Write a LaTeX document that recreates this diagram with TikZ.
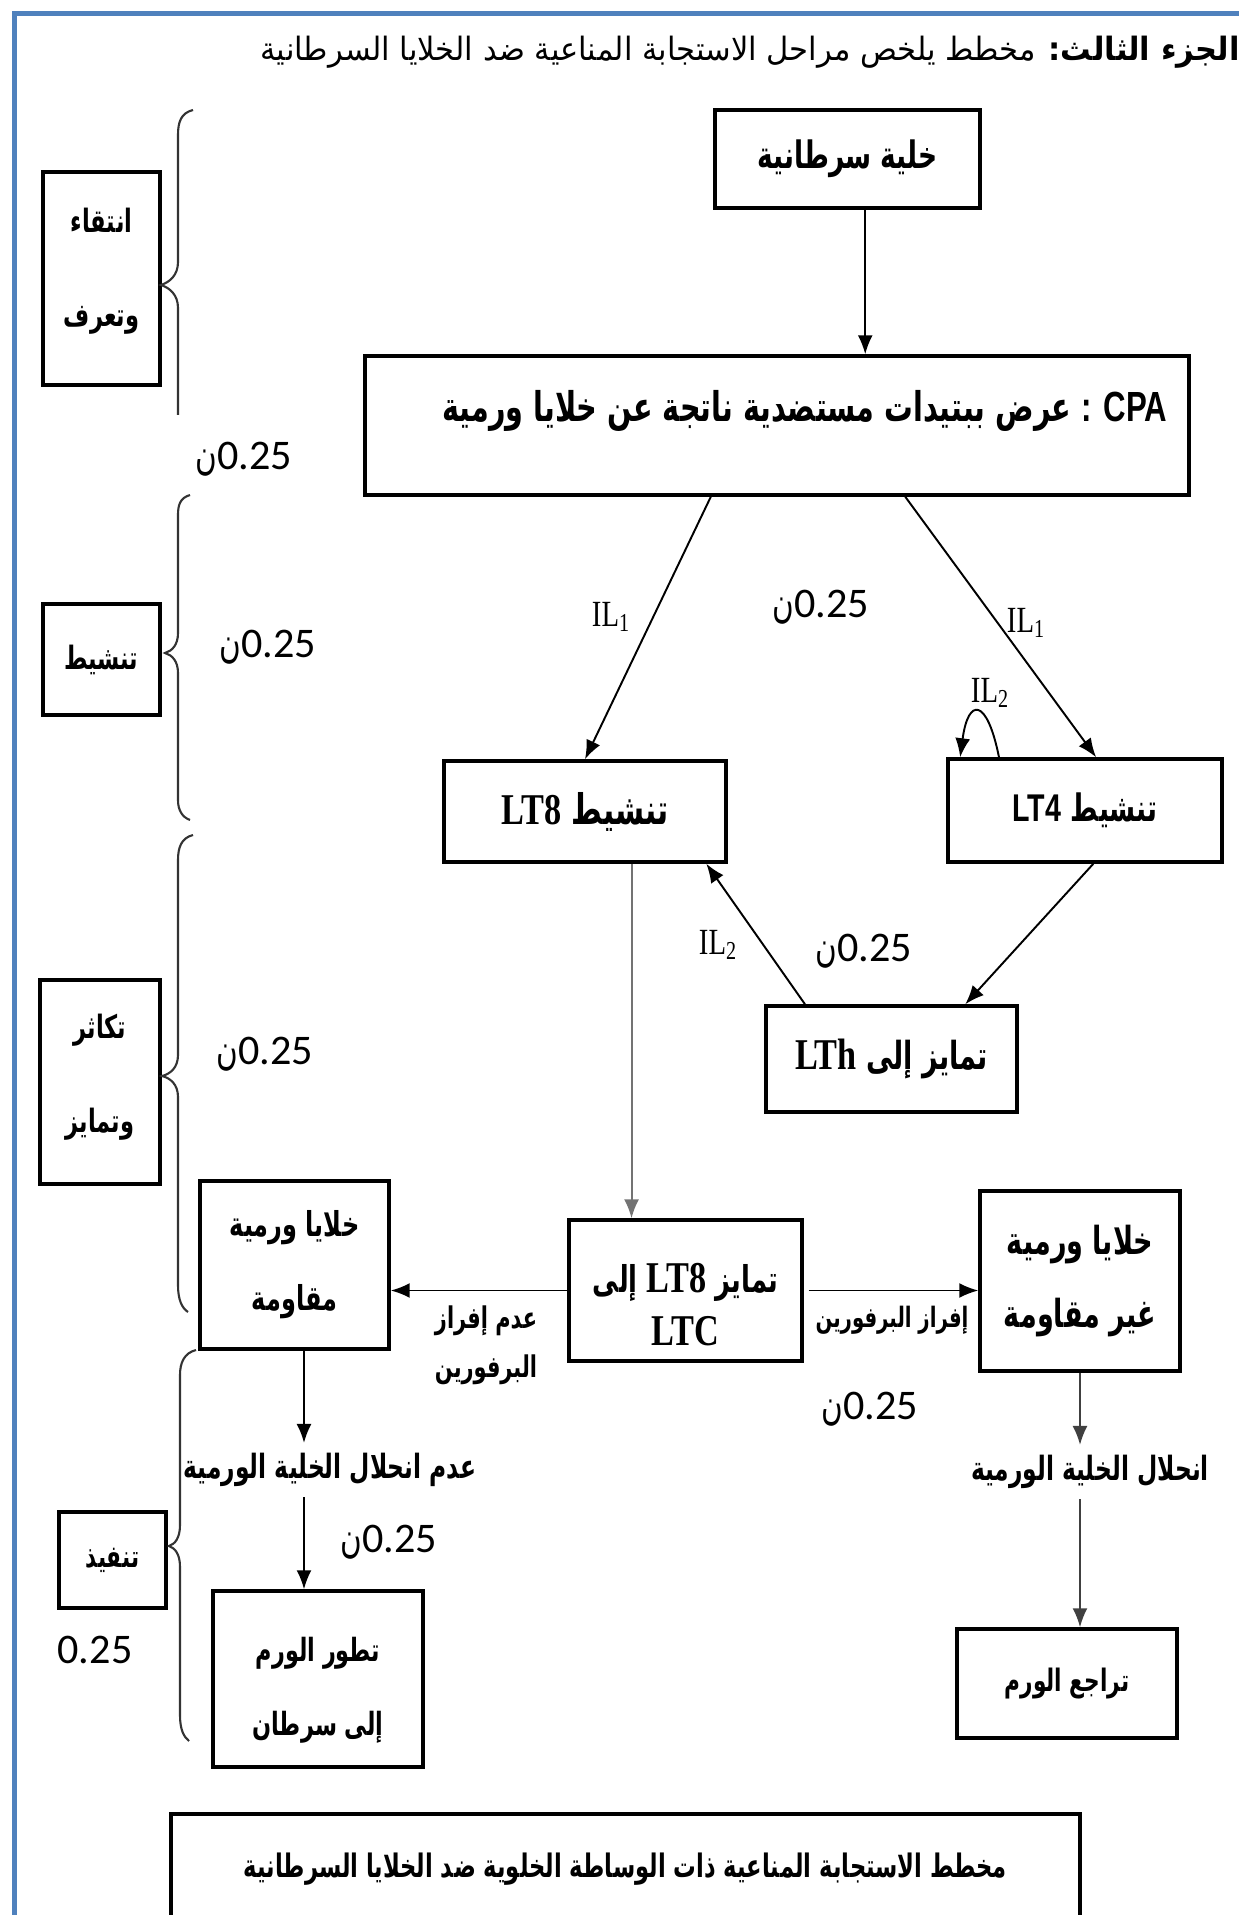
\documentclass[tikz,border=0pt]{standalone}
\usepackage{fontspec}
\usetikzlibrary{arrows.meta,calc}
\setmainfont{Liberation Serif}
\newfontfamily\arfont[Script=Arabic,FakeStretch=0.7]{DejaVu Sans}
\newfontfamily\artitle[Script=Arabic,FakeStretch=0.95]{DejaVu Sans}
\newfontfamily\latfont[FakeStretch=0.78]{Liberation Serif}
\newfontfamily\cpafont[FakeStretch=0.74]{Liberation Sans}
\newfontfamily\numfont{Carlito}
\TeXXeTstate=1
\newcommand\artx[1]{{\arfont\beginR #1\endR}}
\definecolor{framebl}{RGB}{79,129,189}
\begin{document}
\begin{tikzpicture}[x=0.02cm,y=-0.02cm,
  box/.style={draw,line width=2pt,inner sep=0pt,align=center,font=\fontsize{21.5pt}{42pt}\selectfont\bfseries},
  arr/.style={line width=1.1pt,-{Latex[length=0.38cm,width=0.3cm]}},
  lbl/.style={inner xsep=0pt,inner ysep=0.2cm,align=center,font=\fontsize{19pt}{28pt}\selectfont\bfseries},
  score/.style={inner sep=0pt,font=\numfont\fontsize{24pt}{28pt}\selectfont},
  il/.style={inner sep=0pt,font=\latfont\fontsize{21pt}{24pt}\selectfont},
  brace/.style={line width=1.2pt,black!80}]
\useasboundingbox (0,0) rectangle (1239,1915);
% frame
\draw[framebl,line width=0.1cm] (14.5,2000) -- (14.5,13.5) -- (1300,13.5);
% title
\node[inner sep=0pt,anchor=east,font=\fontsize{18.3pt}{22pt}\selectfont] (title) at (1240,52)
  {{\artitle\beginR{\bfseries الجزء الثالث\kern0pt:} مخطط يلخص مراحل الاستجابة المناعية ضد الخلايا السرطانية\endR}};
% main boxes
\node[box,minimum width=5.3cm,minimum height=1.96cm] (cell) at (847.5,159) {\artx{خلية سرطانية}};
\node[box,minimum width=16.48cm,minimum height=2.78cm,font=\fontsize{23.3pt}{28pt}\selectfont\bfseries] (cpa) at (777,425.5)
  {\hspace*{1.12cm}\artx{عرض ببتيدات مستضدية ناتجة عن خلايا ورمية}\ {\cpafont\fontsize{24pt}{28pt}\selectfont : CPA}\rule[-0.8cm]{0pt}{0pt}};
\node[box,minimum width=5.64cm,minimum height=2.02cm,font=\fontsize{24pt}{28pt}\selectfont\bfseries] (lt8act) at (585,811.5)
  {{\latfont\fontsize{25pt}{28pt}\selectfont LT8} \artx{تنشيط}};
\node[box,minimum width=5.48cm,minimum height=2.06cm] (lt4act) at (1085,810.5) {{\cpafont\fontsize{22pt}{28pt}\selectfont LT4} \artx{تنشيط}};
\node[box,minimum width=5.02cm,minimum height=2.12cm,font=\fontsize{22pt}{28pt}\selectfont\bfseries] (lth) at (891.5,1059)
  {{\latfont\fontsize{25pt}{28pt}\selectfont LTh} \artx{تمايز إلى}};
\node[box,minimum width=4.66cm,minimum height=2.82cm,font=\fontsize{21pt}{30pt}\selectfont\bfseries] (ltc) at (685.5,1290.5)
  {\rule{0pt}{1.15cm}\artx{إلى}\ {\latfont\fontsize{25pt}{28pt}\selectfont LT8}\ \artx{تمايز}\\{\latfont\fontsize{25pt}{28pt}\selectfont LTC}};
\node[box,minimum width=3.78cm,minimum height=3.36cm,font=\fontsize{19.5pt}{42pt}\selectfont\bfseries] (resist) at (294.5,1265)
  {\artx{خلايا ورمية}\\\artx{مقاومة}};
\node[box,minimum width=4cm,minimum height=3.6cm,font=\fontsize{22pt}{42pt}\selectfont\bfseries] (nonres) at (1080,1281)
  {\artx{خلايا ورمية}\\\artx{غير مقاومة}};
\node[box,minimum width=4.2cm,minimum height=3.52cm,font=\fontsize{18.2pt}{42pt}\selectfont\bfseries] (tumor) at (318,1679)
  {\rule{0pt}{0.95cm}\artx{تطور الورم}\\\artx{إلى سرطان}};
\node[box,minimum width=4.4cm,minimum height=2.18cm,font=\fontsize{17.6pt}{28pt}\selectfont\bfseries] (regress) at (1067,1683.5) {\artx{تراجع الورم}};
\node[box,minimum width=18.18cm,minimum height=2.2cm,anchor=north,font=\fontsize{18.4pt}{22pt}\selectfont\bfseries] (caption) at (625.5,1812)
  {\artx{مخطط الاستجابة المناعية ذات الوساطة الخلوية ضد الخلايا السرطانية}};
% phase boxes
\node[box,minimum width=2.34cm,minimum height=4.26cm,font=\fontsize{18.3pt}{53pt}\selectfont\bfseries] (select) at (101.5,278.5)
  {\artx{انتقاء}\\\artx{وتعرف}\rule[-0.45cm]{0pt}{0pt}};
\node[box,minimum width=2.34cm,minimum height=2.22cm,font=\fontsize{18.3pt}{20pt}\selectfont\bfseries] (activ) at (101.5,659.5) {\artx{تنشيط}};
\node[box,minimum width=2.4cm,minimum height=4.08cm,font=\fontsize{18.3pt}{53pt}\selectfont\bfseries] (prolif) at (100,1082)
  {\artx{تكاثر}\\\artx{وتمايز}\rule[-0.35cm]{0pt}{0pt}};
\node[box,minimum width=2.14cm,minimum height=1.92cm,font=\fontsize{17.5pt}{20pt}\selectfont\bfseries] (effect) at (112.5,1560) {\artx{تنفيذ}};
% braces
\draw[brace] (193,110) .. controls (181,113) and (178,122) .. (178,135) -- (178,262)
  .. controls (178,275) and (170,282) .. (161,285) .. controls (170,288) and (178,295) .. (178,308) -- (178,415);
\draw[brace] (190,495) .. controls (180,498) and (178,505) .. (178,515) -- (178,633)
  .. controls (178,645) and (172,651) .. (165,653) .. controls (172,655) and (178,661) .. (178,673) -- (178,800)
  .. controls (178,810) and (182,817) .. (190,820);
\draw[brace] (193,835) .. controls (181,838) and (178,848) .. (178,860) -- (178,1055)
  .. controls (178,1068) and (170,1074) .. (162,1076) .. controls (170,1078) and (178,1084) .. (178,1097) -- (178,1285)
  .. controls (178,1300) and (182,1308) .. (188,1312);
\draw[brace] (196,1350) .. controls (184,1353) and (180,1363) .. (180,1375) -- (180,1525)
  .. controls (180,1538) and (175,1544) .. (169,1546) .. controls (175,1548) and (180,1554) .. (180,1567) -- (180,1715)
  .. controls (180,1730) and (184,1737) .. (189,1741);
% labels on the arrows
\node[il] (il1a) at (611,617) {IL\textsubscript{1}};
\node[il] (il1b) at (1026,623) {IL\textsubscript{1}};
\node[il] (il2a) at (990,693) {IL\textsubscript{2}};
\node[il] (il2b) at (718,945) {IL\textsubscript{2}};
\node[lbl,font=\fontsize{17pt}{28pt}\selectfont\bfseries] (nosecr) at (486,1345) {\artx{عدم إفراز}\\\artx{البرفورين}};
\node[lbl,font=\fontsize{16pt}{28pt}\selectfont\bfseries] (secr) at (892,1320) {\artx{إفراز البرفورين}};
\node[lbl] (nolysis) at (330,1470) {\artx{عدم انحلال الخلية الورمية}};
\node[lbl] (lysis) at (1090,1472) {\artx{انحلال الخلية الورمية}};
% marks
\node[score] (s1) at (244,459) {{\arfont ن}0.25};
\node[score] (s2) at (268,647) {{\arfont ن}0.25};
\node[score] (s3) at (821,607) {{\arfont ن}0.25};
\node[score] (s4) at (864,951) {{\arfont ن}0.25};
\node[score] (s5) at (265,1054) {{\arfont ن}0.25};
\node[score] (s6) at (870,1409) {{\arfont ن}0.25};
\node[score] (s7) at (389,1542) {{\arfont ن}0.25};
\node[score] (s8) at (95,1650) {0.25};
% connectors
\coordinate (c0) at ($(cell.south west)!0.566!(cell.south east)$);
\draw[arr] (c0) -- (c0 |- cpa.north);
\draw[arr] ($(cpa.south west)!0.42!(cpa.south east)$) -- (lt8act.north);
\draw[arr] ($(cpa.south west)!0.655!(cpa.south east)$) -- ($(lt4act.north west)!0.54!(lt4act.north east)$);
\draw[arr] ($(lt4act.north west)!0.19!(lt4act.north east)$) .. controls +(-12,-60) and +(8,-60) .. ($(lt4act.north west)!0.05!(lt4act.north east)$);
\draw[arr] ($(lt4act.south west)!0.53!(lt4act.south east)$) -- ($(lth.north west)!0.79!(lth.north east)$);
\draw[arr] ($(lth.north west)!0.16!(lth.north east)$) -- ($(lt8act.south west)!0.925!(lt8act.south east)$);
\coordinate (c1) at ($(lt8act.south west)!0.663!(lt8act.south east)$);
\draw[arr,black!55] (c1) -- (c1 |- ltc.north);
\draw[arr] (ltc.west) -- (ltc.west -| resist.east);
\draw[arr] ([xshift=0.1cm]ltc.east) -- (ltc.east -| nonres.west);
\coordinate (c2) at (304,0);
\draw[arr] (resist.south -| c2) -- (nolysis.north -| c2);
\draw[arr] (nolysis.south -| c2) -- (tumor.north -| c2);
\draw[arr,black!75] (nonres.south) -- (nonres.south |- lysis.north);
\draw[arr,black!75] (lysis.south -| nonres.south) -- (regress.north -| nonres.south);
\end{tikzpicture}
\end{document}
